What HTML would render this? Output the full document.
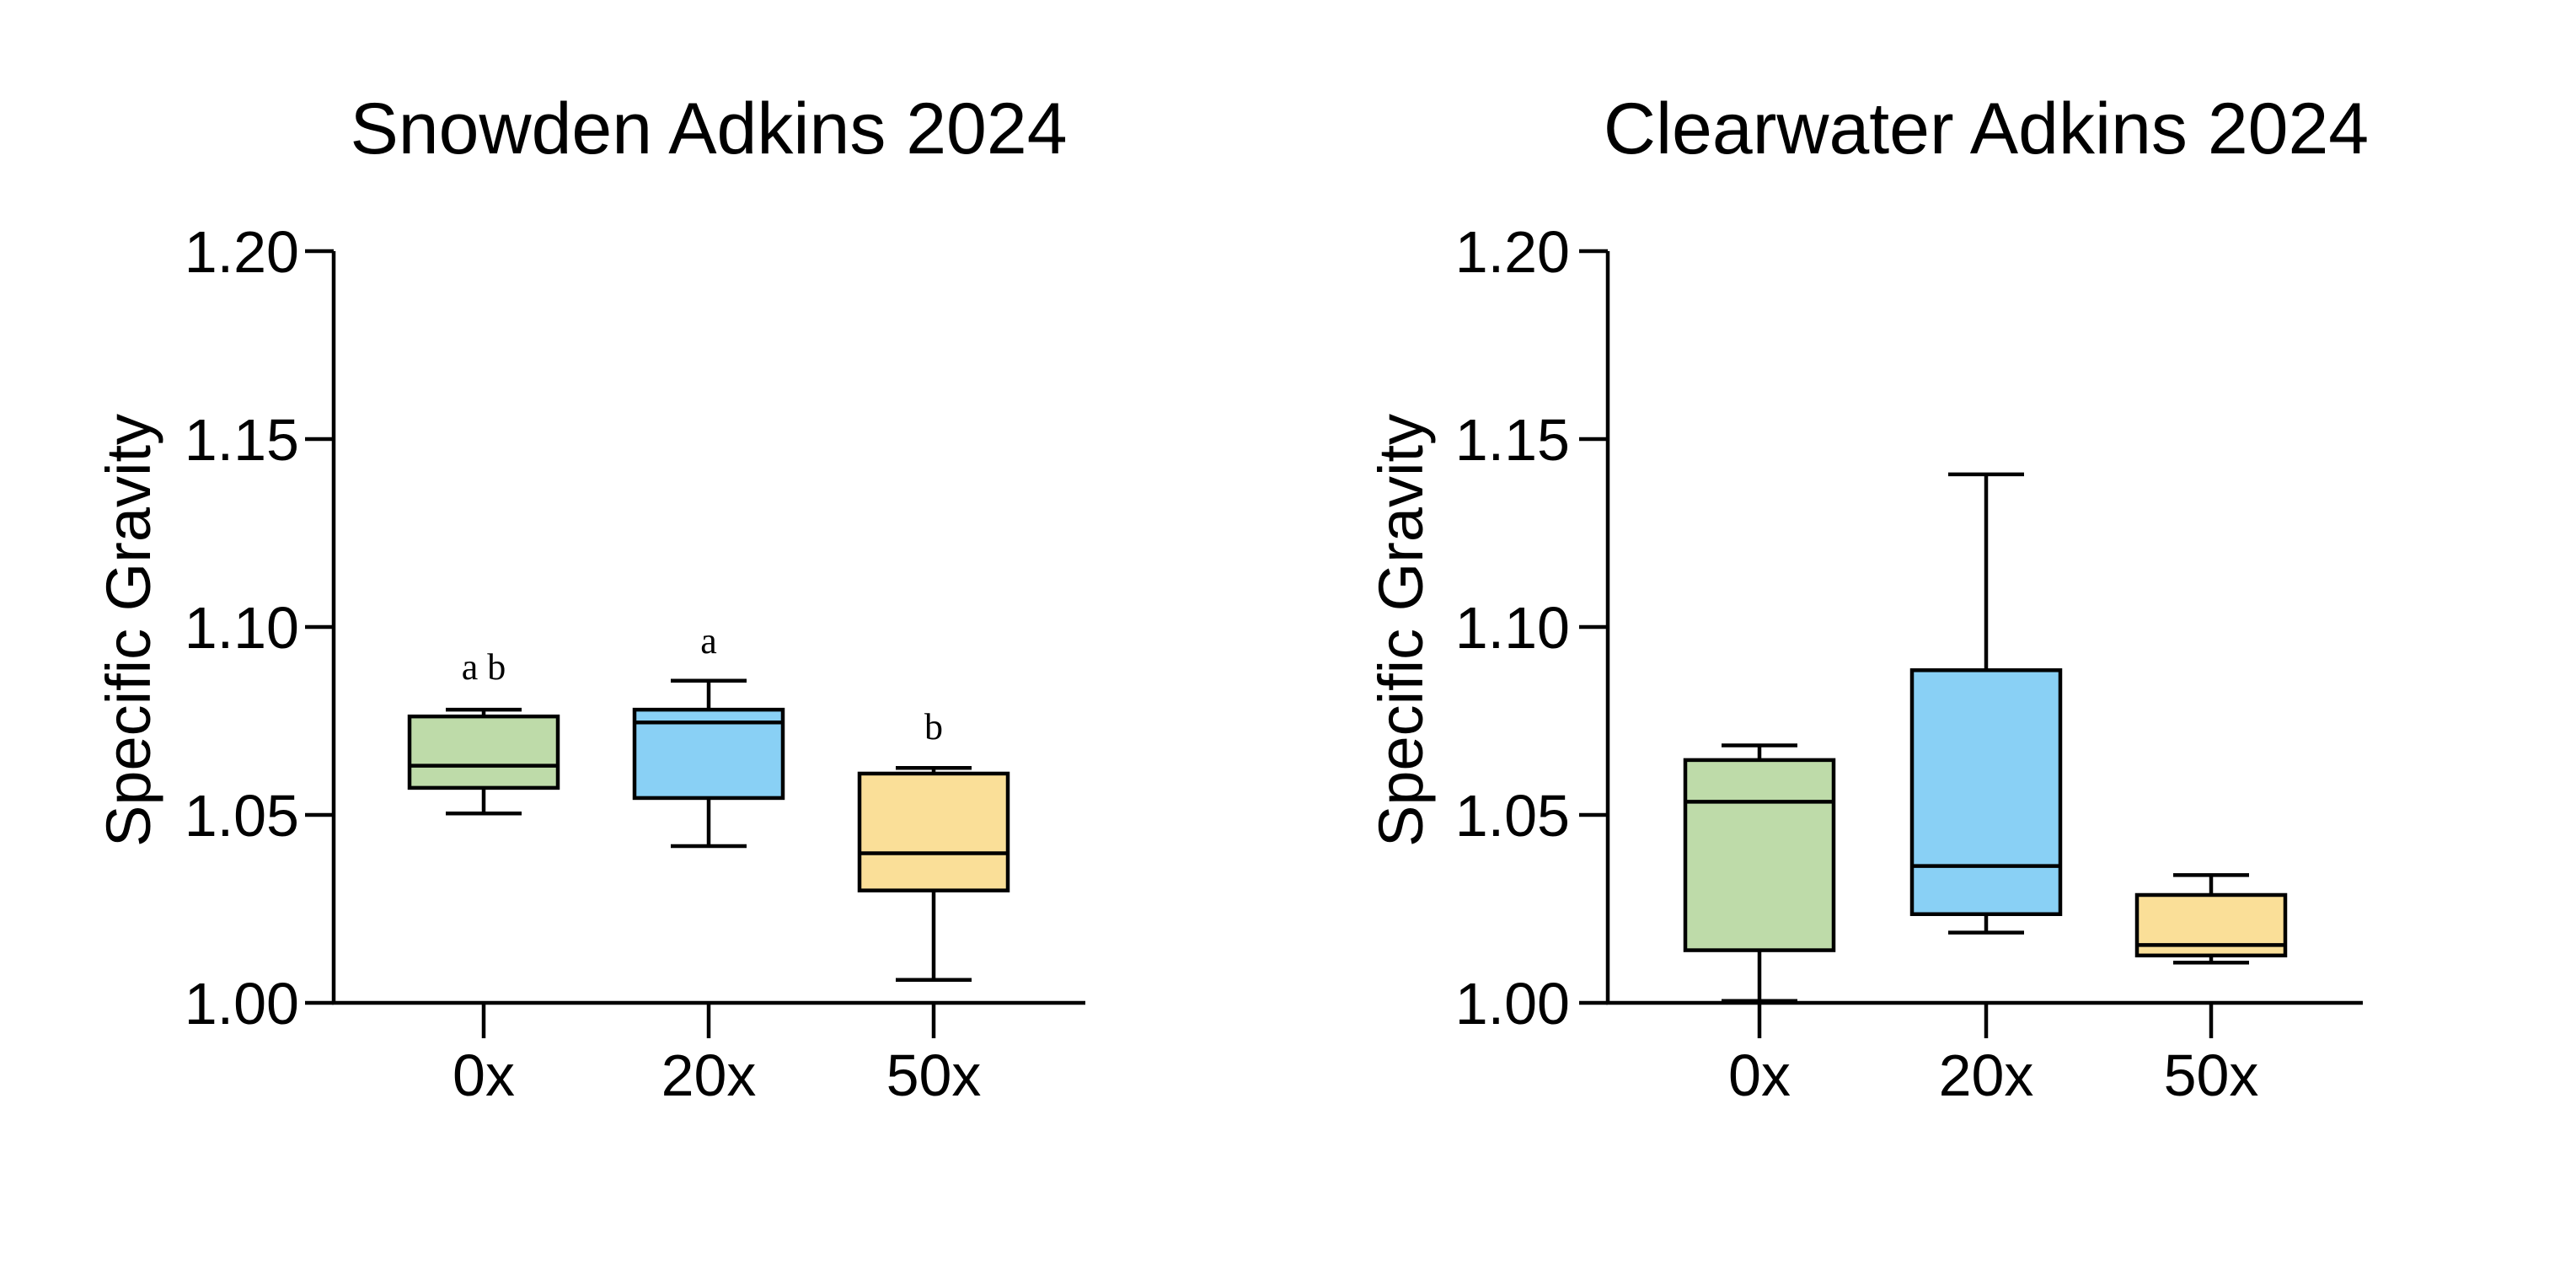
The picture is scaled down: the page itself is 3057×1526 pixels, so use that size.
<!DOCTYPE html>
<html><head><meta charset="utf-8"><style>
html,body{margin:0;padding:0;background:#fff;}
svg{display:block;}
text{font-family:"Liberation Sans",Arial,sans-serif;fill:#000;}
.s{font-family:"Liberation Serif",serif;}
</style></head><body>
<svg id="s" width="3057" height="1526" viewBox="0 0 3057 1526" xmlns="http://www.w3.org/2000/svg">
<rect width="3057" height="1526" fill="#fff"/>
<text x="841" y="182" font-size="86" text-anchor="middle">Snowden Adkins 2024</text>
<text x="2357" y="182" font-size="86" text-anchor="middle">Clearwater Adkins 2024</text>
<g font-size="70" text-anchor="end">
<text x="355" y="323">1.20</text><text x="355" y="546">1.15</text><text x="355" y="769">1.10</text><text x="355" y="992">1.05</text><text x="355" y="1215">1.00</text>
<text x="1863" y="323">1.20</text><text x="1863" y="546">1.15</text><text x="1863" y="769">1.10</text><text x="1863" y="992">1.05</text><text x="1863" y="1215">1.00</text>
</g>
<g font-size="70" text-anchor="middle">
<text x="574" y="1300">0x</text><text x="841" y="1300">20x</text><text x="1108" y="1300">50x</text>
<text x="2088" y="1300">0x</text><text x="2357" y="1300">20x</text><text x="2624" y="1300">50x</text>
</g>
<text transform="translate(178,748) rotate(-90)" font-size="74" text-anchor="middle">Specific Gravity</text>
<text transform="translate(1688,748) rotate(-90)" font-size="74" text-anchor="middle">Specific Gravity</text>
<g font-size="44" text-anchor="middle">
<text class="s" x="574" y="806">a b</text>
<text class="s" x="841" y="775">a</text>
<text class="s" x="1108" y="877">b</text>
</g>
<g id="g" stroke="#000" stroke-width="4.5" fill="none"></g>
</svg>
<script>
var g=document.getElementById('g');var h='';
function y(v){return 1190-(v-1)*4460;}
function L(a,b,c,d){h+='<line x1="'+a+'" y1="'+b+'" x2="'+c+'" y2="'+d+'"/>';}
function axis(x0,cats,xe){
 L(x0,298,x0,1190);L(x0-2,1190,xe,1190);
 for(var i=0;i<5;i++){var yy=298+i*223;L(x0-34,yy,x0,yy);}
 cats.forEach(function(c){L(c,1190,c,1232);});
}
function box(c,mn,q1,md,q3,mx,col){
 var hw=88,cw=45;
 L(c,y(mx),c,y(q3));L(c,y(q1),c,y(mn));
 L(c-cw,y(mx),c+cw,y(mx));L(c-cw,y(mn),c+cw,y(mn));
 h+='<rect x="'+(c-hw)+'" y="'+y(q3)+'" width="'+(2*hw)+'" height="'+(y(q1)-y(q3))+'" fill="'+col+'"/>';
 L(c-hw,y(md),c+hw,y(md));
}
var G='#BEDBA9',B='#89D0F5',Y='#FADF98';
axis(396,[574,841,1108],1288);
axis(1908,[2088,2357,2624],2804);
box(574,1.0504,1.0572,1.0631,1.0762,1.078,G);
box(841,1.0417,1.0545,1.0746,1.078,1.0857,B);
box(1108,1.0061,1.0299,1.0398,1.061,1.0625,Y);
box(2088,1.0005,1.014,1.0535,1.0646,1.0685,G);
box(2357,1.0187,1.0236,1.0364,1.0885,1.1406,B);
box(2624,1.0107,1.0126,1.0154,1.0287,1.034,Y);
g.innerHTML=h;
</script>
</body></html>
